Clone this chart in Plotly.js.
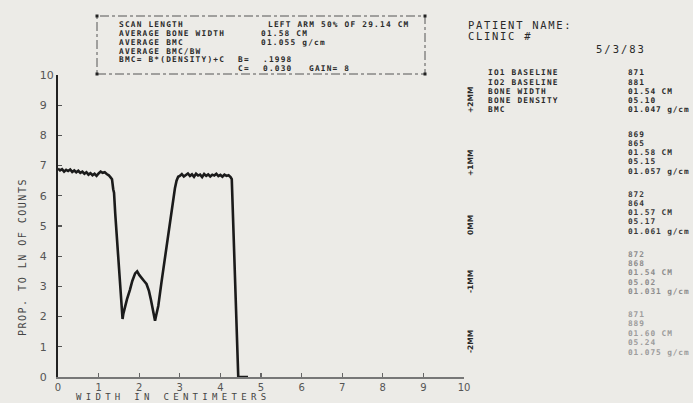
<!DOCTYPE html>
<html>
<head>
<meta charset="utf-8">
<script src="https://cdn.plot.ly/plotly-3.0.1.min.js"></script>
<style>
  html, body { margin: 0; padding: 0; background: #ecebe7; }
  #chart { width: 693px; height: 403px; }
</style>
</head>
<body>
<div id="chart"></div>
<script>
// ---- data ----
const widthCm = [
  0.00,0.05,0.10,0.15,0.20,0.25,0.30,0.35,0.40,0.45,0.50,0.55,0.60,0.65,0.70,0.75,0.80,0.85,0.90,0.95,1.00,1.05,1.10,1.15,1.20,1.25,1.30,
  1.33,1.36,1.38,1.41,1.45,1.49,1.53,1.56,1.59,1.61,1.65,1.70,1.77,1.83,1.90,1.95,2.00,2.06,2.12,2.18,2.24,2.29,2.34,2.39,2.42,2.47,2.55,2.64,2.72,2.80,2.88,2.92,2.96,
  3.00,3.05,3.10,3.15,3.20,3.25,3.30,3.35,3.40,3.45,3.50,3.55,3.60,3.65,3.70,3.75,3.80,3.85,3.90,3.95,4.00,4.05,4.10,4.15,4.20,4.25,
  4.28,4.44,4.68
];
const propLnCounts = [
  6.90,6.84,6.88,6.80,6.86,6.82,6.87,6.79,6.84,6.78,6.83,6.76,6.80,6.73,6.78,6.70,6.75,6.68,6.73,6.66,6.74,6.80,6.76,6.78,6.72,6.68,6.60,
  6.55,6.22,6.10,5.40,4.65,3.80,3.00,2.40,1.92,2.10,2.33,2.58,2.88,3.18,3.43,3.50,3.38,3.26,3.18,3.08,2.85,2.55,2.20,1.86,2.05,2.35,3.15,3.98,4.80,5.62,6.25,6.50,6.63,
  6.66,6.72,6.64,6.70,6.74,6.66,6.71,6.63,6.73,6.67,6.70,6.62,6.72,6.66,6.71,6.64,6.70,6.67,6.73,6.65,6.69,6.63,6.70,6.66,6.68,6.62,
  6.55,0.00,0.00
];
const tickValues = [0,1,2,3,4,5,6,7,8,9,10];
const xTickLabels = ["0","1","2","3","4","5","6","7","8","9","10"];
const yTickLabels = ["0\u2007","1\u2007","2\u2007","3\u2007","4\u2007","5\u2007","6\u2007","7\u2007","8\u2007","9\u2007","10"];

const headerLabels = ["SCAN LENGTH","AVERAGE BONE WIDTH","AVERAGE BMC","AVERAGE BMC/BW","BMC= B*(DENSITY)+C"];
const headerValues = ["LEFT ARM 50% OF 29.14 CM","01.58 CM","01.055 g/cm"];
const coefB = ".1998", coefC = "0.030", gainText = "GAIN= 8";

const patientLines = ["PATIENT NAME:","CLINIC #"];
const scanDate = "5/3/83";
const resultLabels = ["IO1 BASELINE","IO2 BASELINE","BONE WIDTH","BONE DENSITY","BMC"];
const positionMarks = ["+2MM","+1MM","0MM","-1MM","-2MM"];
const resultBlocks = [
  ["871","881","01.54 CM","05.10","01.047 g/cm"],
  ["869","865","01.58 CM","05.15","01.057 g/cm"],
  ["872","864","01.57 CM","05.17","01.061 g/cm"],
  ["872","868","01.54 CM","05.02","01.031 g/cm"],
  ["871","889","01.60 CM","05.24","01.075 g/cm"]
];

// ---- layout helpers (pixel -> paper) ----
const L = 58, T = 75, W = 406, H = 302;
const px = x => (x - L) / W;
const py = y => (T + H - y) / H;
const MONO = "DejaVu Sans Mono, monospace";
const sp = (t, s, b) => '<span style="letter-spacing:' + s + 'px' + (b ? ';font-weight:bold' : '') + '">' + t + '</span>';

const annotations = [];
function ann(text, x, y, o) {
  o = o || {};
  annotations.push({
    xref: 'paper', yref: 'paper', x: px(x), y: py(y),
    xanchor: o.xanchor || 'left', yanchor: 'middle',
    text: sp(text, o.ls == null ? 1.2 : o.ls, o.bold !== false), showarrow: false,
    textangle: o.angle || 0, borderpad: 0,
    font: { family: o.family || MONO, size: o.size || 7.8, color: o.color || '#2a2a2a' }
  });
}

// header box text
const hdrY = [24.5, 33.5, 42.3, 51, 59.8, 68.3];
headerLabels.forEach((t, i) => ann(t, 118, hdrY[i]));
ann(headerValues[0], 267, hdrY[0]);
ann(headerValues[1], 260, hdrY[1]);
ann(headerValues[2], 260, hdrY[2]);
ann("B=", 237, hdrY[4]);
ann(coefB, 262, hdrY[4]);
ann("C=", 237, hdrY[5]);
ann(coefC, 262, hdrY[5]);
ann(gainText, 308, hdrY[5]);

// right panel
ann(patientLines[0], 467, 25, { size: 10.5, ls: 1.7, color: '#2a2a2a', bold: false });
ann(patientLines[1], 467, 36, { size: 10.5, ls: 1.7, color: '#2a2a2a', bold: false });
ann(scanDate, 595, 49, { size: 10.5, ls: 2.0, color: '#2a2a2a', bold: false });

resultLabels.forEach((t, i) => ann(t, 487, 73 + i * 9));
const blockTop = [73, 134, 194, 254, 314];
const blockStep = [9, 9.3, 9.3, 9.4, 9.5];
const blockColor = ['#2a2a2a', '#303030', '#383838', '#8c8c8c', '#9c9c9c'];
resultBlocks.forEach((blk, b) => {
  blk.forEach((t, i) => ann(t, 627, blockTop[b] + i * blockStep[b], { color: blockColor[b], ls: 0.9 }));
});
const markY = [100, 163, 225, 282, 342];
positionMarks.forEach((t, i) => ann(t, 470, markY[i], { xanchor: 'center', angle: -90, size: 7.5, ls: 0, color: '#2a2a2a', family: 'DejaVu Sans, sans-serif' }));

// axis titles
ann("PROP. TO LN OF COUNTS", 22, 257, { xanchor: 'center', angle: -90, size: 10, ls: 1.5, color: '#444', bold: false });
ann("WIDTH IN CENTIMETERS", 75, 397, { size: 9, ls: 4.3, color: '#444', bold: false });

// header box shapes
const shapes = [
  { type: 'rect', xref: 'paper', yref: 'paper', x0: px(97), x1: px(425), y0: py(74), y1: py(16),
    line: { color: '#555', width: 1, dash: 'dashdot' } }
];
[[97,16],[425,16],[97,74],[425,74]].forEach(c => shapes.push({
  type: 'rect', xref: 'paper', yref: 'paper',
  x0: px(c[0] - 1.5), x1: px(c[0] + 1.5), y0: py(c[1] + 1.5), y1: py(c[1] - 1.5),
  fillcolor: '#222', line: { width: 0 }
}));

const trace = {
  type: 'scatter', mode: 'lines', x: widthCm, y: propLnCounts,
  line: { color: '#1b1b1b', width: 2.6 }, cliponaxis: false, hoverinfo: 'skip'
};

const layout = {
  width: 693, height: 403,
  margin: { l: L, r: 693 - L - W, t: T, b: 403 - T - H, pad: 0 },
  paper_bgcolor: '#ecebe7', plot_bgcolor: '#ecebe7',
  showlegend: false,
  xaxis: {
    range: [0, 10], tickmode: 'array', tickvals: tickValues, ticktext: xTickLabels,
    ticks: 'inside', ticklen: 4, tickwidth: 1.2, tickcolor: '#666',
    showline: true, linecolor: '#777', linewidth: 1.5, mirror: false,
    showgrid: false, zeroline: false, ticklabelstandoff: 0,
    tickfont: { family: 'DejaVu Sans, sans-serif', size: 10, color: '#555' }
  },
  yaxis: {
    range: [0, 10], tickmode: 'array', tickvals: tickValues, ticktext: yTickLabels,
    ticks: 'inside', ticklen: 4, tickwidth: 1.2, tickcolor: '#555',
    showline: true, linecolor: '#222', linewidth: 2,
    showgrid: false, zeroline: false,
    tickfont: { family: 'DejaVu Sans, sans-serif', size: 11, color: '#555' }
  },
  annotations: annotations,
  shapes: shapes
};

Plotly.newPlot('chart', [trace], layout, { displayModeBar: false, staticPlot: true });
</script>
</body>
</html>
